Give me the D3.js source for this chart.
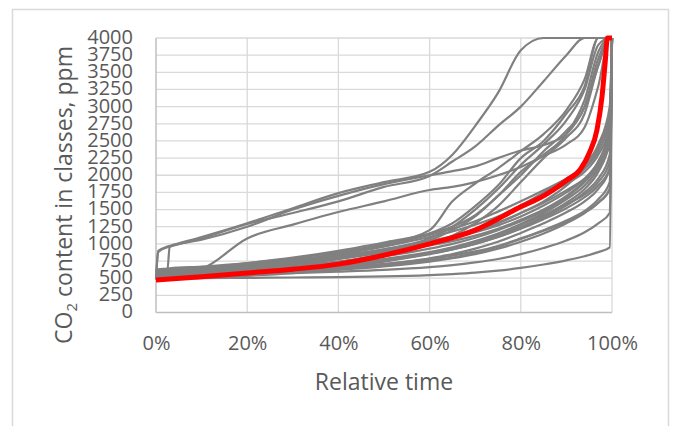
<!DOCTYPE html>
<html>
<head>
<meta charset="utf-8">
<script src="https://cdn.jsdelivr.net/npm/d3@7"></script>
<style>
  html, body { margin: 0; padding: 0; background: #fff; }
  svg { display: block; }
</style>
</head>
<body>
<svg id="chart" width="675" height="426"></svg>
<script>
// ---- data ----
const xGrid = [0, 0.5, 2.5, 3, 10, 20, 30, 40, 50, 60, 65, 70, 75, 80, 85, 90, 94, 97, 99.5, 100];

const upperSeries = [
  [490, 900, 960, 970, 1100, 1300, 1520, 1740, 1900, 2050, 2300, 2720, 3200, 3820, 4000, 4000, 4000, 4000, 4000, 4000],
  [480, 880, 950, 960, 1080, 1290, 1450, 1620, 1830, 1990, 2200, 2420, 2720, 3000, 3370, 3750, 4000, 4000, 4000, 4000],
  [590, 600, 620, 960, 1060, 1250, 1500, 1700, 1870, 2000, 2060, 2130, 2250, 2360, 2440, 2600, 3000, 3600, 4000, 4000],
  [540, 560, 570, 575, 640, 1080, 1280, 1465, 1620, 1785, 1830, 1900, 2000, 2120, 2280, 2450, 2700, 3300, 4000, 4000]
];

const steepSeries = [
  [560, 570, 575, 580, 620, 680, 760, 860, 1000, 1200, 1620, 1880, 2100, 2350, 2600, 2950, 3400, 4000, 4000, 4000],
  [520, 530, 535, 540, 590, 650, 720, 800, 920, 1080, 1250, 1500, 1800, 2150, 2450, 2800, 3250, 3900, 4000, 4000],
  [500, 510, 515, 520, 560, 620, 690, 780, 900, 1050, 1200, 1400, 1700, 2000, 2350, 2650, 3000, 3700, 4000, 4000],
  [540, 550, 555, 560, 600, 660, 740, 840, 970, 1150, 1300, 1550, 1850, 2250, 2500, 2900, 3300, 4000, 4000, 4000],
  [480, 490, 495, 500, 540, 590, 650, 730, 850, 1000, 1120, 1300, 1550, 1900, 2250, 2550, 2900, 3600, 4000, 4000],
  [600, 610, 615, 620, 650, 720, 800, 900, 1020, 1150, 1250, 1420, 1700, 2050, 2300, 2600, 3100, 3800, 4000, 4000]
];

const middleSeries = [
  [470, 475, 480, 485, 510, 545, 590, 650, 740, 860, 930, 1020, 1120, 1250, 1400, 1600, 1800, 2050, 2500, 4000],
  [500, 505, 510, 515, 550, 600, 660, 740, 850, 990, 1080, 1180, 1300, 1450, 1620, 1850, 2100, 2400, 2900, 4000],
  [530, 540, 545, 550, 590, 640, 700, 780, 880, 1010, 1100, 1220, 1380, 1560, 1750, 1950, 2150, 2450, 3000, 4000],
  [560, 565, 570, 575, 610, 660, 720, 800, 900, 1020, 1090, 1170, 1270, 1400, 1560, 1750, 1950, 2200, 2600, 4000],
  [590, 600, 605, 610, 640, 690, 760, 850, 960, 1100, 1180, 1280, 1400, 1550, 1700, 1880, 2050, 2300, 2700, 4000],
  [620, 630, 640, 645, 670, 720, 790, 880, 990, 1130, 1220, 1330, 1470, 1620, 1780, 1950, 2100, 2350, 2800, 4000],
  [510, 515, 520, 525, 550, 590, 640, 700, 780, 880, 950, 1040, 1150, 1290, 1450, 1650, 1850, 2100, 2500, 4000],
  [480, 485, 490, 495, 520, 560, 610, 670, 750, 850, 920, 1000, 1100, 1230, 1380, 1560, 1750, 1950, 2300, 4000],
  [550, 555, 560, 565, 590, 630, 680, 740, 820, 930, 1000, 1090, 1200, 1330, 1480, 1680, 1900, 2150, 2600, 4000],
  [580, 585, 590, 595, 620, 670, 730, 800, 880, 980, 1040, 1120, 1220, 1350, 1500, 1700, 1920, 2200, 2700, 4000],
  [500, 505, 510, 515, 540, 575, 620, 680, 760, 870, 940, 1030, 1140, 1280, 1420, 1580, 1720, 1900, 2200, 4000],
  [530, 535, 540, 545, 570, 610, 650, 700, 770, 860, 920, 1000, 1100, 1220, 1360, 1520, 1680, 1850, 2100, 4000],
  [600, 610, 615, 620, 650, 700, 760, 830, 920, 1040, 1110, 1200, 1310, 1450, 1600, 1780, 1950, 2150, 2450, 4000],
  [470, 475, 480, 485, 505, 535, 575, 630, 700, 790, 850, 930, 1030, 1160, 1300, 1460, 1620, 1800, 2100, 4000]
];

const lowerSeries = [
  [480, 485, 490, 495, 500, 505, 510, 515, 525, 545, 560, 580, 610, 650, 700, 760, 820, 880, 950, 4000],
  [520, 525, 530, 535, 545, 560, 575, 595, 620, 660, 690, 730, 780, 850, 940, 1050, 1170, 1300, 1450, 4000],
  [500, 505, 510, 515, 530, 555, 585, 620, 670, 740, 790, 850, 930, 1030, 1150, 1300, 1450, 1600, 1800, 4000],
  [560, 565, 570, 575, 590, 610, 635, 665, 710, 780, 830, 890, 970, 1080, 1200, 1340, 1480, 1650, 1900, 4000],
  [540, 545, 550, 555, 570, 590, 610, 640, 690, 760, 800, 870, 960, 1070, 1190, 1320, 1460, 1600, 1800, 4000]
];

const meanX = [0, 10, 20, 30, 40, 50, 60, 70, 80, 85, 90, 93, 95, 96.7, 97.8, 98.5, 99, 100];
const meanY = [474, 520, 575, 630, 705, 835, 1000, 1200, 1540, 1700, 1925, 2080, 2320, 2660, 3140, 3640, 4000, 4000];

const yTicks = d3.range(0, 4001, 250);
const xTicks = [0, 20, 40, 60, 80, 100];

// ---- layout ----
const svg = d3.select("#chart");
const pLeft = 156, pRight = 612, pTop = 38, pBottom = 312.5;

const x = d3.scaleLinear().domain([0, 100]).range([pLeft, pRight]);
const y = d3.scaleLinear().domain([0, 4000]).range([pBottom, pTop]);

// outer chart border
svg.append("rect")
  .attr("x", 12.5).attr("y", 9.5)
  .attr("width", 656).attr("height", 440)
  .attr("fill", "none").attr("stroke", "#d9d9d9").attr("stroke-width", 1.5);

// gridlines
const grid = svg.append("g");
grid.selectAll("line.h").data(yTicks.slice(1)).join("line").attr("class", "h")
  .attr("x1", pLeft).attr("x2", pRight)
  .attr("y1", d => y(d)).attr("y2", d => y(d))
  .attr("stroke", "#d9d9d9").attr("stroke-width", 1.3);
grid.selectAll("line.v").data(xTicks.slice(1)).join("line").attr("class", "v")
  .attr("x1", d => x(d)).attr("x2", d => x(d))
  .attr("y1", pTop).attr("y2", pBottom)
  .attr("stroke", "#d9d9d9").attr("stroke-width", 1.3);

// axes lines
svg.append("line").attr("x1", pLeft).attr("x2", pLeft).attr("y1", pTop).attr("y2", pBottom)
  .attr("stroke", "#bfbfbf").attr("stroke-width", 1.5);
svg.append("line").attr("x1", pLeft).attr("x2", pRight).attr("y1", pBottom).attr("y2", pBottom)
  .attr("stroke", "#bfbfbf").attr("stroke-width", 1.5);

// tick labels via d3 axes
const yAxis = d3.axisLeft(y).tickValues(yTicks).tickSize(0).tickPadding(0).tickFormat(d3.format("d"));
const gy = svg.append("g").attr("transform", `translate(${pLeft - 23},0)`).call(yAxis);
gy.select(".domain").remove();
gy.selectAll("text")
  .attr("font-family", "'Open Sans', sans-serif").attr("font-size", 20)
  .attr("fill", "#595959").attr("dy", "0.27em");

const xAxis = d3.axisBottom(x).tickValues(xTicks).tickSize(0).tickPadding(0).tickFormat(d => d + "%");
const gx = svg.append("g").attr("transform", `translate(0,${pBottom})`).call(xAxis);
gx.select(".domain").remove();
gx.selectAll("text")
  .attr("font-family", "'Open Sans', sans-serif").attr("font-size", 20)
  .attr("fill", "#595959").attr("dy", null).attr("y", 37.5);

// data lines
const line = d3.line().x((d, i) => x(xGrid[i])).y(d => y(d)).curve(d3.curveMonotoneX);
const lines = svg.append("g").attr("fill", "none").attr("stroke", "#808080")
  .attr("stroke-width", 2.2).attr("stroke-linejoin", "round");
const allGray = [].concat(lowerSeries, middleSeries, steepSeries, upperSeries);
lines.selectAll("path").data(allGray).join("path").attr("d", d => line(d));

const meanLine = d3.line().x(d => x(d[0])).y(d => y(d[1])).curve(d3.curveMonotoneX);
svg.append("path")
  .datum(meanX.map((v, i) => [v, meanY[i]]))
  .attr("d", meanLine)
  .attr("fill", "none").attr("stroke", "#ff0000").attr("stroke-width", 5)
  .attr("stroke-linejoin", "round");

// axis titles
svg.append("text")
  .attr("x", (pLeft + pRight) / 2).attr("y", 390)
  .attr("text-anchor", "middle")
  .attr("font-family", "'Open Sans', sans-serif").attr("font-size", 23)
  .attr("fill", "#595959")
  .text("Relative time");

const yt = svg.append("text")
  .attr("transform", "translate(72,195) rotate(-90)")
  .attr("text-anchor", "middle")
  .attr("font-family", "'Open Sans', sans-serif").attr("font-size", 23)
  .attr("fill", "#595959");
yt.append("tspan").text("CO");
yt.append("tspan").attr("font-size", 15).attr("dy", 5).text("2");
yt.append("tspan").attr("dy", -5).text(" content in classes, ppm");
</script>
</body>
</html>
